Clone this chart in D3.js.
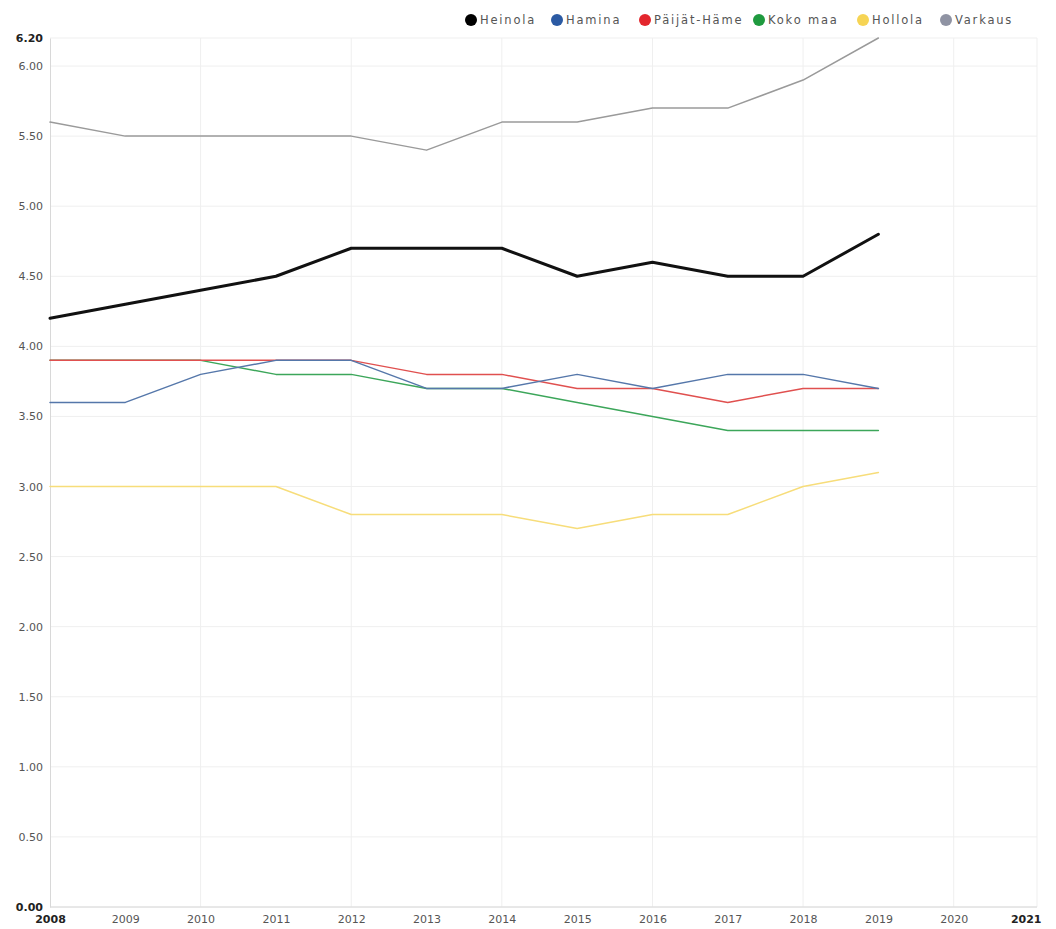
<!DOCTYPE html>
<html>
<head>
<meta charset="utf-8">
<script src="https://cdn.jsdelivr.net/npm/d3@7"></script>
<style>
  html, body { margin: 0; padding: 0; background: #fff; }
  svg { display: block; font-family: "DejaVu Sans", sans-serif; }
</style>
</head>
<body>
<svg id="chart" width="1056" height="929"></svg>
<script>
// Years on the x axis
const years = [2008, 2009, 2010, 2011, 2012, 2013, 2014, 2015, 2016, 2017, 2018, 2019];
const xDomain = [2008, 2021];
const yTicks = [0, 0.5, 1, 1.5, 2, 2.5, 3, 3.5, 4, 4.5, 5, 5.5, 6, 6.2];

// Series
const seriesNames = ["Heinola", "Hamina", "Päijät-Häme", "Koko maa", "Hollola", "Varkaus"];
const heinola    = [4.2, 4.3, 4.4, 4.5, 4.7, 4.7, 4.7, 4.5, 4.6, 4.5, 4.5, 4.8];
const hamina     = [3.6, 3.6, 3.8, 3.9, 3.9, 3.7, 3.7, 3.8, 3.7, 3.8, 3.8, 3.7];
const paijatHame = [3.9, 3.9, 3.9, 3.9, 3.9, 3.8, 3.8, 3.7, 3.7, 3.6, 3.7, 3.7];
const kokoMaa    = [3.9, 3.9, 3.9, 3.8, 3.8, 3.7, 3.7, 3.6, 3.5, 3.4, 3.4, 3.4];
const hollola    = [3.0, 3.0, 3.0, 3.0, 2.8, 2.8, 2.8, 2.7, 2.8, 2.8, 3.0, 3.1];
const varkaus    = [5.6, 5.5, 5.5, 5.5, 5.5, 5.4, 5.6, 5.6, 5.7, 5.7, 5.9, 6.2];

const seriesValues = [heinola, hamina, paijatHame, kokoMaa, hollola, varkaus];
const seriesColors = ["#000000", "#2b5aa3", "#e3262d", "#1f9a3f", "#f6d454", "#8f93a3"];
const lineColors   = ["#111111", "#5577aa", "#e0504f", "#3ca65a", "#f7dd7a", "#9a9a9a"];
const lineWidths   = [3, 1.5, 1.5, 1.5, 1.5, 1.5];

const svg = d3.select("#chart");
const margin = { left: 50, right: 1037, top: 38, bottom: 907 };

const x = d3.scaleLinear().domain(xDomain).range([margin.left, 1029]);
const y = d3.scaleLinear().domain([0, 6.2]).range([margin.bottom, margin.top]);

// Grid
const grid = svg.append("g");
grid.selectAll("line.h").data(yTicks).join("line")
  .attr("x1", margin.left).attr("x2", margin.right)
  .attr("y1", d => y(d)).attr("y2", d => y(d))
  .attr("stroke", "#efefef").attr("stroke-width", 1);
grid.selectAll("line.v").data(d3.range(2010, 2021, 2)).join("line")
  .attr("x1", d => x(d)).attr("x2", d => x(d))
  .attr("y1", margin.top).attr("y2", margin.bottom)
  .attr("stroke", "#efefef").attr("stroke-width", 1);
grid.append("line")
  .attr("x1", margin.right).attr("x2", margin.right)
  .attr("y1", margin.top).attr("y2", margin.bottom)
  .attr("stroke", "#efefef");

// Axes
const yAxis = d3.axisLeft(y).tickValues(yTicks).tickSize(0).tickPadding(7)
  .tickFormat(d3.format(".2f"));
const gy = svg.append("g").attr("transform", `translate(${margin.left},0)`).call(yAxis);
gy.select(".domain").attr("stroke", "#d8d8d8");
gy.selectAll("text")
  .attr("font-size", 11).attr("fill", "#555")
  .attr("font-family", "DejaVu Sans, sans-serif");
gy.selectAll(".tick").filter(d => d === 0 || d === 6.2).select("text")
  .attr("font-weight", "bold").attr("fill", "#222");

const xAxis = d3.axisBottom(x).tickValues(d3.range(2008, 2022)).tickSize(0).tickPadding(8)
  .tickFormat(d3.format("d"));
const gx = svg.append("g").attr("transform", `translate(0,${margin.bottom})`).call(xAxis);
gx.select(".domain").attr("stroke", "#d8d8d8").attr("d", `M${margin.left},0H${margin.right}`);
gx.selectAll("text")
  .attr("font-size", 11).attr("fill", "#555")
  .attr("font-family", "DejaVu Sans, sans-serif");
gx.selectAll(".tick").filter(d => d === 2008 || d === 2021).select("text")
  .attr("font-weight", "bold").attr("fill", "#222");
gx.selectAll(".tick").filter(d => d === 2021).select("text")
  .attr("text-anchor", "end").attr("dx", 12);

// Lines
const line = d3.line()
  .x((d, i) => x(years[i]))
  .y(d => y(d));

const order = [4, 3, 2, 1, 5, 0];
svg.append("g").selectAll("path").data(order).join("path")
  .attr("d", i => line(seriesValues[i]))
  .attr("fill", "none")
  .attr("stroke", i => lineColors[i])
  .attr("stroke-width", i => lineWidths[i])
  .attr("stroke-linejoin", "round")
  .attr("stroke-linecap", "round");

// Legend
const legendX = [471, 557, 645, 759, 863, 946];
const legend = svg.append("g");
const items = legend.selectAll("g").data(seriesNames).join("g")
  .attr("transform", (d, i) => `translate(${legendX[i]},20)`);
items.append("circle").attr("r", 6).attr("fill", (d, i) => seriesColors[i]);
items.append("text").attr("x", 9).attr("dy", "0.35em")
  .attr("font-size", 11.5).attr("letter-spacing", 1.8)
  .attr("fill", "#555").text(d => d);
</script>
</body>
</html>
